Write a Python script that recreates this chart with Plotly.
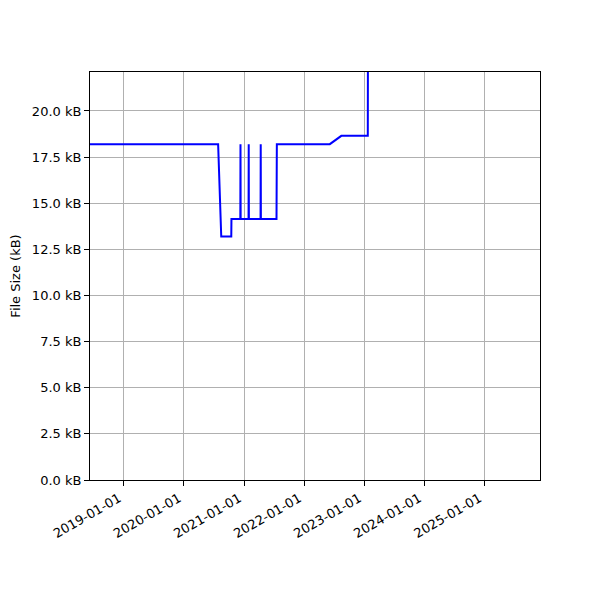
import plotly.graph_objects as go

dates = [
    "2018-01-01", "2020-07-27", "2020-08-15", "2020-10-15", "2020-10-16",
    "2020-12-09", "2020-12-10", "2020-12-11",
    "2021-01-28", "2021-01-29", "2021-01-30",
    "2021-04-11", "2021-04-12", "2021-04-13",
    "2021-07-17", "2021-07-19",
    "2022-06-06", "2022-08-15", "2023-01-23", "2023-01-25",
]
sizes_kb = [
    18.2, 18.2, 13.2, 13.2, 14.15,
    14.15, 18.2, 14.15,
    14.15, 18.2, 14.15,
    14.15, 18.2, 14.15,
    14.15, 18.2,
    18.2, 18.65, 18.65, 30.0,
]

x_tick_vals = ["2019-01-01", "2020-01-01", "2021-01-01", "2022-01-01",
               "2023-01-01", "2024-01-01", "2025-01-01"]
y_tick_vals = [0, 2.5, 5, 7.5, 10, 12.5, 15, 17.5, 20]
y_tick_text = [f"{v:.1f} kB" for v in y_tick_vals]

fig = go.Figure()
fig.add_trace(go.Scatter(
    x=dates, y=sizes_kb, mode="lines",
    line=dict(color="#0000ff", width=2),
    showlegend=False,
))

font = dict(family="DejaVu Sans", size=13, color="black")
fig.update_layout(
    width=600, height=600,
    margin=dict(l=82, r=68, t=64, b=128),
    paper_bgcolor="white", plot_bgcolor="white",
    font=font,
    xaxis=dict(
        range=["2018-06-09", "2025-12-05"],
        tickvals=x_tick_vals, ticktext=x_tick_vals,
        tickangle=-30, automargin=False, ticklabelshift=-5,
        showgrid=True, gridcolor="#b0b0b0", gridwidth=1,
        showline=True, linecolor="black", linewidth=1, mirror=True,
        ticks="outside", ticklen=5, tickcolor="black",
        zeroline=False,
    ),
    yaxis=dict(
        range=[0, 22.11], automargin=False,
        tickvals=y_tick_vals, ticktext=y_tick_text,
        title=dict(text="File Size (kB)", font=font, standoff=8),
        showgrid=True, gridcolor="#b0b0b0", gridwidth=1,
        showline=True, linecolor="black", linewidth=1, mirror=True,
        ticks="outside", ticklen=5, tickcolor="black",
        zeroline=False,
    ),
)
fig.write_html("out.html")
